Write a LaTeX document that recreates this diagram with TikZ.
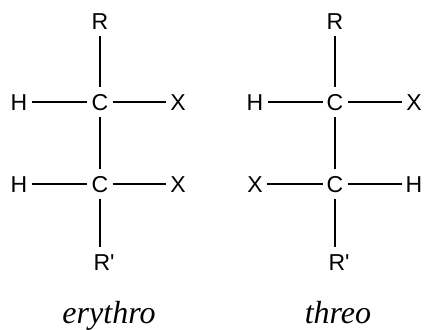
\documentclass[tikz,border=0pt]{standalone}
\usepackage{fontspec}
\setmainfont{Liberation Serif}
\newfontfamily\atomfont{Liberation Sans}
\tikzset{
  atom/.style={inner xsep=4pt, inner ysep=6.5pt, text height=16.5pt, text depth=0pt,
    font=\atomfont\fontsize{23}{27}\selectfont},
  bond/.style={line width=1.8pt},
  isomer/.style={anchor=base, font=\fontsize{32}{36}\selectfont\itshape}
}
\begin{document}
\begin{tikzpicture}[x=1pt,y=-1pt]
\useasboundingbox (0,0) rectangle (425,329);

% erythro
\node [atom] (eR) at (100,21) {R};
\node [atom] (eC1) at (100,102) {C};
\node [atom] (eH1) at (19,102) {H};
\node [atom] (eX1) at (178,102) {X};
\node [atom] (eC2) at (100,184) {C};
\node [atom] (eH2) at (19,184) {H};
\node [atom] (eX2) at (178,184) {X};
\node [atom] (eRp) at (104,262) {R'};
\node [isomer] (ename) at (109,323) {erythro};

\draw [bond] (eR) -- (eC1);
\draw [bond] (eH1) -- (eC1);
\draw [bond] (eC1) -- (eX1);
\draw [bond] (eC1) -- (eC2);
\draw [bond] (eH2) -- (eC2);
\draw [bond] (eC2) -- (eX2);
\draw [bond] (eC2) -- (eC2 |- eRp.north);

% threo
\node [atom] (tR) at (335,21) {R};
\node [atom] (tC1) at (335,102) {C};
\node [atom] (tH1) at (255,102) {H};
\node [atom] (tX1) at (414,102) {X};
\node [atom] (tC2) at (335,184) {C};
\node [atom] (tX2) at (255,184) {X};
\node [atom] (tH2) at (414,184) {H};
\node [atom] (tRp) at (339,262) {R'};
\node [isomer] (tname) at (338,323) {threo};

\draw [bond] (tR) -- (tC1);
\draw [bond] (tH1) -- (tC1);
\draw [bond] (tC1) -- (tX1);
\draw [bond] (tC1) -- (tC2);
\draw [bond] (tX2) -- (tC2);
\draw [bond] (tC2) -- (tH2);
\draw [bond] (tC2) -- (tC2 |- tRp.north);
\end{tikzpicture}
\end{document}
